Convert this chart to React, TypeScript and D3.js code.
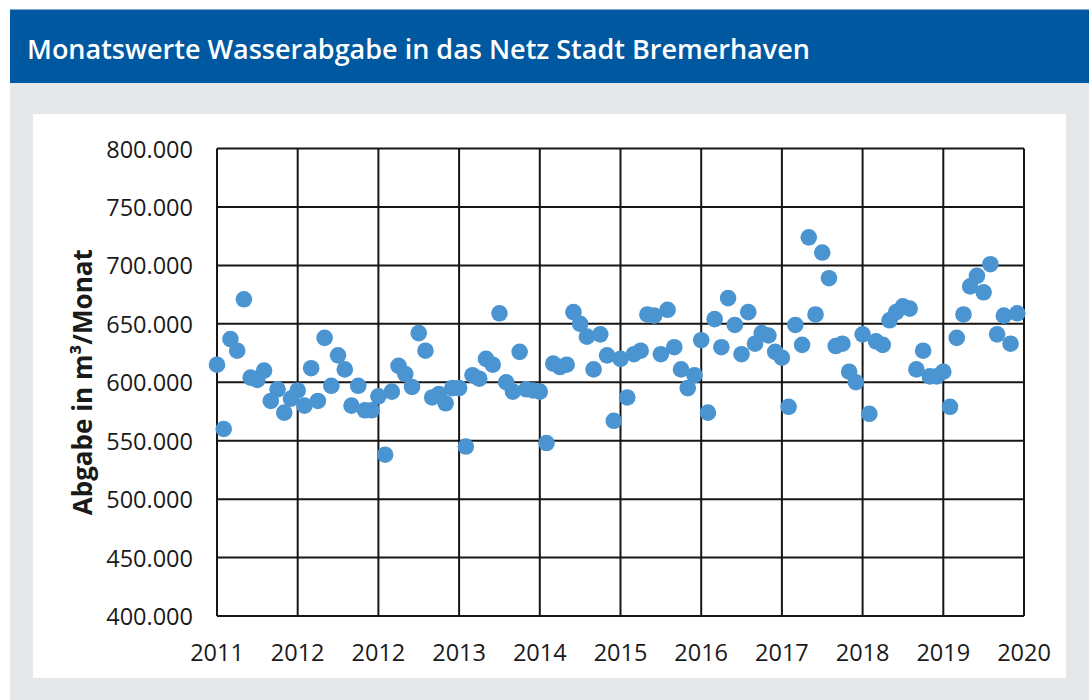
import { useMemo } from 'react'
import * as d3 from 'd3'

// Monthly water delivery into the Bremerhaven city grid, Jan 2011 .. Dec 2020 (m³)
const values = [
  615, 560, 637, 627, 671, 604, 602, 610, 584, 594, 574, 586,
  593, 580, 612, 584, 638, 597, 623, 611, 580, 597, 576, 576,
  588, 538, 592, 614, 607, 596, 642, 627, 587, 590, 582, 595,
  595, 545, 606, 603, 620, 615, 659, 600, 592, 626, 594, 593,
  592, 548, 616, 613, 615, 660, 650, 639, 611, 641, 623, 567,
  620, 587, 624, 627, 658, 657, 624, 662, 630, 611, 595, 606,
  636, 574, 654, 630, 672, 649, 624, 660, 633, 642, 640, 626,
  621, 579, 649, 632, 724, 658, 711, 689, 631, 633, 609, 600,
  641, 573, 635, 632, 653, 660, 665, 663, 611, 627, 605, 605,
  609, 579, 638, 658, 682, 691, 677, 701, 641, 657, 633, 659,
].map((v) => v * 1000)

// x axis labels exactly as printed (one per 12 months)
const xTickLabels = ['2011', '2012', '2012', '2013', '2014', '2015', '2016', '2017', '2018', '2019', '2020']
const yTicks = [400000, 450000, 500000, 550000, 600000, 650000, 700000, 750000, 800000]
const yTickLabels = ['400.000', '450.000', '500.000', '550.000', '600.000', '650.000', '700.000', '750.000', '800.000']

const TITLE = 'Monatswerte Wasserabgabe in das Netz Stadt Bremerhaven'
const Y_TITLE = 'Abgabe in m³/Monat'

const W = 1089
const H = 700
const BLUE = '#0058a0'
const GREY = '#e6e7e9'
const DOT = '#4a95d1'
const FONT = '"Open Sans", "DejaVu Sans", sans-serif'

const PLOT = { left: 217, right: 1024, top: 148.5, bottom: 616 }

export default function App() {
  const x = useMemo(
    () => d3.scaleLinear().domain([0, 120]).range([PLOT.left, PLOT.right]),
    []
  )
  const y = useMemo(
    () => d3.scaleLinear().domain([400000, 800000]).range([PLOT.bottom, PLOT.top]),
    []
  )
  const xTicks = xTickLabels.map((_, i) => i * 12)

  return (
    <div style={{ position: 'absolute', left: 0, top: 0 }}>
      <svg width={W} height={H} style={{ display: 'block', background: '#fff' }}>
        {/* header bar */}
        <rect x={10} y={9.5} width={W - 10} height={73.5} fill={BLUE} />
        <text x={27} y={59} fill="#fff"
          style={{ fontFamily: FONT, fontSize: 27, fontWeight: 600 }}>
          {TITLE}
        </text>

        {/* grey frame + white panel */}
        <rect x={10} y={83} width={W - 10} height={H - 83} fill={GREY} />
        <rect x={33} y={114} width={1033} height={564} fill="#fff" />

        {/* grid */}
        <g stroke="#161616" strokeWidth={2}>
          {yTicks.map((t) => (
            <line key={'h' + t} x1={PLOT.left} x2={PLOT.right} y1={y(t)} y2={y(t)} />
          ))}
          {xTicks.map((t) => (
            <line key={'v' + t} x1={x(t)} x2={x(t)} y1={PLOT.top} y2={PLOT.bottom} />
          ))}
        </g>

        {/* y tick labels */}
        {yTicks.map((t, i) => (
          <text key={'yl' + t} x={193} y={y(t)} textAnchor="end" dominantBaseline="central"
            fill="#1a1a1a" style={{ fontFamily: FONT, fontSize: 23.5 }}>
            {yTickLabels[i]}
          </text>
        ))}

        {/* x tick labels */}
        {xTicks.map((t, i) => (
          <text key={'xl' + i} x={x(t)} y={661} textAnchor="middle"
            fill="#1a1a1a" style={{ fontFamily: FONT, fontSize: 23.5 }}>
            {xTickLabels[i]}
          </text>
        ))}

        {/* y axis title */}
        <text transform={`translate(92,${(PLOT.top + PLOT.bottom) / 2}) rotate(-90)`}
          textAnchor="middle" fill="#1a1a1a"
          style={{ fontFamily: FONT, fontSize: 26, fontWeight: 700 }}>
          {Y_TITLE}
        </text>

        {/* points */}
        <g fill={DOT}>
          {values.map((v, i) => (
            <circle key={i} cx={x(i)} cy={y(v)} r={8.3} />
          ))}
        </g>
      </svg>
    </div>
  )
}
